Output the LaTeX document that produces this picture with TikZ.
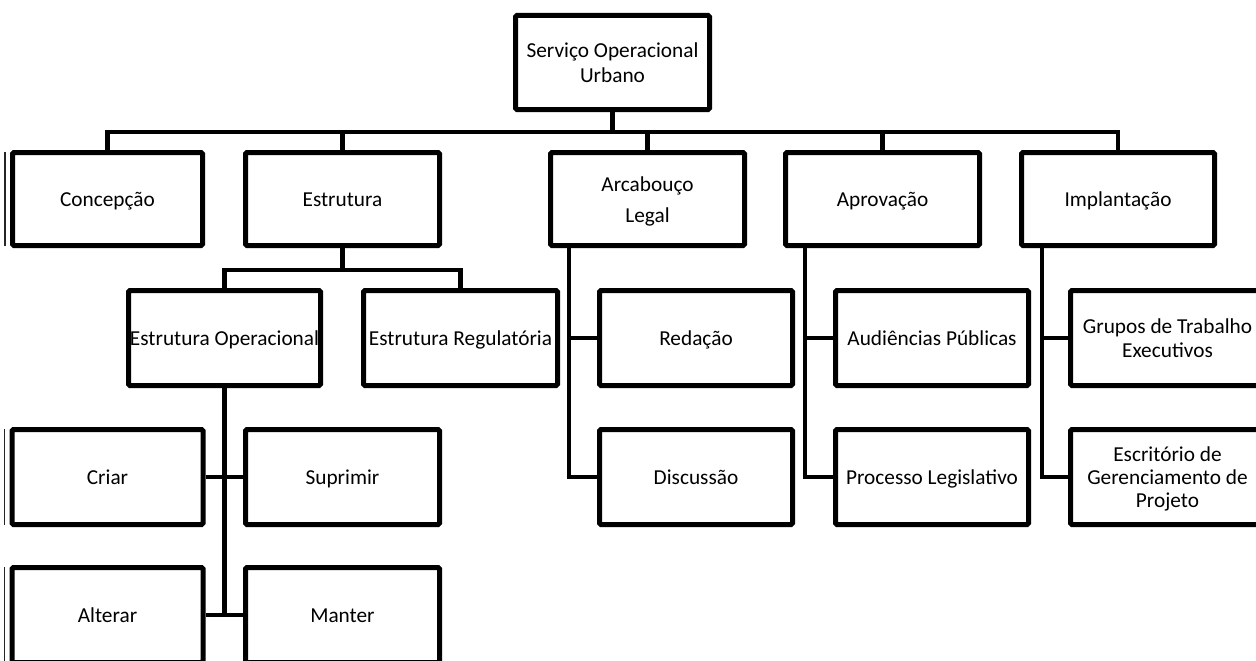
\documentclass[tikz,border=0pt]{standalone}
\usepackage{fontspec}
\setmainfont{Carlito}
% fixed line strut so every label sits at the same height
\newcommand\ls{\rule[-4pt]{0pt}{23pt}}
\begin{document}
\begin{tikzpicture}[x=1pt,y=-1pt,
  box/.style={draw, line width=5pt, rounded corners=1.5pt, inner sep=0pt,
    align=center, minimum height=95pt, minimum width=194pt,
    font=\fontsize{21.3}{24}\selectfont},
  rowone/.style={box, minimum height=93pt},
  link/.style={line width=4.5pt},
  edge/.style={line width=1.2pt, black!85}]
\fill[white] (0,0) rectangle (1256,661);
\useasboundingbox (0,0) rectangle (1256,661);
\clip (0,0) rectangle (1256,661);

% root
\node[box, minimum height=94pt, font=\fontsize{21.3}{25}\selectfont] (root) at (612.5,62.5) {\ls Serviço Operacional\\\ls Urbano};

% first level
\node[rowone, minimum width=190pt] (concepcao) at (107.5,199) {\ls Concepção};
\node[rowone] (estrutura) at (342.5,199) {\ls Estrutura};
\node[rowone, font=\fontsize{21.3}{31}\selectfont] (arcabouco) at (647.5,199) {\ls Arcabouço\\\ls Legal};
\node[rowone] (aprovacao) at (882.5,199) {\ls Aprovação};
\node[rowone, minimum width=193pt] (implantacao) at (1118,199) {\ls Implantação};

% second level
\node[box, minimum width=192pt] (eop) at (224.5,338) {\ls Estrutura Operacional};
\node[box] (ereg) at (460.5,338) {\ls Estrutura Regulatória};
\node[box, minimum width=193pt] (redacao) at (696,338) {\ls Redação};
\node[box, minimum width=193pt] (audiencias) at (932,338) {\ls Audiências Públicas};
\node[box] (grupos) at (1167.5,338) {\ls Grupos de Trabalho\\\ls Executivos};

% third level
\node[box, minimum width=191pt] (criar) at (107.5,477) {\ls Criar};
\node[box] (suprimir) at (342.5,477) {\ls Suprimir};
\node[box, minimum width=193pt] (discussao) at (696,477) {\ls Discussão};
\node[box, minimum width=193pt] (processo) at (932,477) {\ls Processo Legislativo};
\node[box, font=\fontsize{21.3}{23}\selectfont] (escritorio) at (1167.5,477) {\ls Escritório de\\\ls Gerenciamento de\\\ls Projeto};

% fourth level
\node[box, minimum width=191pt] (alterar) at (107.5,615) {\ls Alterar};
\node[box] (manter) at (342.5,615) {\ls Manter};

% thin rules along the cut left edges
\foreach \n in {concepcao,criar,alterar}
  \draw[edge] ([xshift=-5pt,yshift=-2pt]\n.north west) -- ([xshift=-5pt,yshift=2pt]\n.south west);

% bus lines
\coordinate (bus) at (0,132);
\coordinate (subbus) at (0,270);
\coordinate (arcx) at (569,0);
\coordinate (aprx) at (805,0);
\coordinate (impx) at (1042,0);

\draw[link] (root.south) -- (root.south |- bus);
\draw[link] (concepcao.north) -- (concepcao.north |- bus) -- (implantacao.north |- bus) -- (implantacao.north);
\foreach \n in {estrutura,arcabouco,aprovacao}
  \draw[link] (\n.north) -- (\n.north |- bus);

\draw[link] (estrutura.south) -- (estrutura.south |- subbus);
\draw[link] (eop.north) -- (eop.north |- subbus) -- (ereg.north |- subbus) -- (ereg.north);

% side branches
\draw[link] (arcabouco.south -| arcx) |- (discussao.west);
\draw[link] (redacao.west) -- (redacao.west -| arcx);
\draw[link] (aprovacao.south -| aprx) |- (processo.west);
\draw[link] (audiencias.west) -- (audiencias.west -| aprx);
\draw[link] (implantacao.south -| impx) |- (escritorio.west);
\draw[link] (grupos.west) -- (grupos.west -| impx);

% operational actions
\draw[link] (eop.south) -- (eop.south |- manter.west);
\draw[link] (criar.east) -- (suprimir.west);
\draw[link] (alterar.east) -- (manter.west);
\end{tikzpicture}
\end{document}
